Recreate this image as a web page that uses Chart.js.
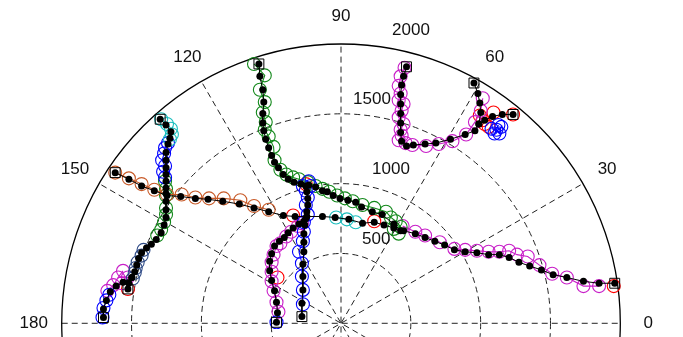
<!DOCTYPE html>
<html>
<head>
<meta charset="utf-8">
<script src="https://cdn.jsdelivr.net/npm/chart.js@4.4.1/dist/chart.umd.min.js"></script>
<style>
  html, body { margin: 0; padding: 0; background: #fff; }
  #wrap { width: 683px; height: 337px; }
</style>
</head>
<body>
<div id="wrap"><canvas id="polarChart"></canvas></div>
<script>
// positions in range units, x = r*cos(theta), y = r*sin(theta)
const ringValues = [500, 1000, 1500, 2000];
const angleTicks = [0, 30, 60, 90, 120, 150, 180];

// black tracks (dots + line)
const truthEast = [[-1617,1106],[-1519,1057],[-1428,1008],[-1337,973],[-1246,938],[-1148,931],[-1043,917],[-952,910],[-847,896],[-728,875],[-623,847],[-518,819],[-413,791],[-329,784],[-245,784],[-133,784],[-42,777],[56,763],[154,735],[238,742],[308,721],[378,700],[448,679],[532,658],[602,630],[672,602],[742,574],[812,539],[889,525],[973,518],[1057,504],[1134,504],[1204,483],[1274,448],[1351,420],[1435,392],[1519,357],[1617,336],[1736,308],[1848,294],[1960,294]];
const truthNorth = [[-588,1904],[-581,1813],[-560,1715],[-553,1624],[-560,1540],[-560,1470],[-553,1414],[-539,1351],[-518,1288],[-497,1232],[-476,1183],[-448,1141],[-413,1092],[-378,1057],[-336,1036],[-287,1022],[-231,1015],[-182,1001],[-133,973],[-98,966],[-56,938],[-7,917],[49,903],[105,889],[147,854],[224,819],[294,798],[378,728],[427,679]];
const truthWest = [[-1295,1498],[-1253,1456],[-1218,1407],[-1225,1358],[-1239,1316],[-1253,1253],[-1253,1197],[-1253,1141],[-1253,1092],[-1253,1043],[-1253,994],[-1253,952],[-1253,896],[-1253,833],[-1253,777],[-1267,721],[-1288,665],[-1323,616],[-1358,581],[-1393,553],[-1428,518],[-1449,476],[-1463,427],[-1477,378],[-1498,336],[-1561,301],[-1610,273],[-1652,231],[-1680,168],[-1701,105],[-1701,42]];
const truthShort = [[-1498,336],[-1519,294],[-1526,252]];
const truthSouthA = [[-266,749],[-301,728],[-343,700],[-378,665],[-406,630],[-441,602],[-476,567],[-497,511],[-511,455],[-511,385],[-497,315],[-476,238],[-462,154],[-455,77],[-462,7]];
const truthSouthB = [[-252,1008],[-245,966],[-238,917],[-238,868],[-245,819],[-252,770],[-259,721],[-266,658],[-266,595],[-266,525],[-273,434],[-273,343],[-273,245],[-280,147],[-280,49]];
const truthNE = [[469,1883],[448,1813],[434,1750],[427,1680],[427,1610],[427,1540],[427,1470],[427,1400],[434,1337],[469,1302],[518,1309],[602,1316],[679,1323],[784,1351],[889,1386],[959,1414],[987,1463],[1001,1547],[994,1617],[980,1687],[952,1764]];
const truthNE2 = [[987,1463],[1029,1491],[1085,1519],[1155,1533],[1232,1533]];
const trackEnds = [[-588,1904],[-1295,1498],[-1617,1106],[-1701,42],[-1526,252],[-462,7],[-280,49],[469,1883],[952,1764],[1232,1533],[1960,294]];

// estimated tracks (open circles), one array per colour group
const orangeTrack = [[-1617,1106],[-1519,1064],[-1428,1022],[-1337,980],[-1246,945],[-1141,945],[-1043,924],[-945,917],[-840,917],[-721,903],[-623,861],[-518,833]];
const cyanTrackA = [[-1288,1498],[-1246,1463],[-1218,1428],[-1211,1386],[-1225,1351]];
const cyanTrackB = [[-35,777],[42,763],[105,742]];
const blueTrackA = [[-1239,1323],[-1260,1288],[-1267,1246],[-1281,1197],[-1260,1155],[-1274,1113],[-1260,1071]];
const blueTrackB = [[-1708,42],[-1701,112],[-1680,168],[-1659,210]];
const blueTrackC = [[-273,140],[-273,245],[-280,343],[-280,441],[-301,525],[-273,602],[-266,672],[-266,742],[-238,798],[-252,868],[-238,924],[-252,973],[-273,1008],[-217,1008],[-231,1043]];
const blueTrackD = [[1078,1428],[1113,1421],[1134,1393],[1148,1442],[1099,1393],[1127,1456]];
const blueLone = [[-462,7]];
const navyTrack = [[-1414,539],[-1428,497],[-1456,448],[-1470,406],[-1477,371],[-1491,329]];
const greenTrackA = [[-1260,1043],[-1253,987],[-1253,938],[-1253,847],[-1253,798],[-1267,742],[-1288,686],[-1316,644]];
const greenTrackB = [[-623,1904],[-546,1820],[-581,1715],[-546,1624],[-560,1547],[-539,1477],[-546,1421],[-518,1372],[-483,1295],[-476,1197],[-434,1127],[-392,1092],[-343,1071],[-301,1057],[-238,1036],[-182,1008],[-133,987],[-84,966],[-28,938],[28,917],[84,896],[154,868],[238,847],[322,819],[357,777],[392,749],[427,707],[413,658],[378,693]];
const magentaTrackA = [[-1561,385],[-1596,336],[-1526,336],[-1568,294],[-1631,280],[-1673,238]];
const magentaTrackB = [[-448,84],[-462,154],[-483,238],[-497,308],[-497,378],[-497,448],[-483,504],[-462,567],[-434,588],[-392,637],[-357,672],[-308,714],[-280,735]];
const magentaTrackC = [[441,714],[532,672],[602,644],[707,595],[812,546],[889,539],[973,532],[1057,525],[1134,525],[1204,532],[1260,504],[1337,490],[1421,427],[1512,364],[1617,336],[1736,273],[1848,273]];
const magentaTrackD = [[455,1876],[427,1813],[413,1743],[427,1687],[413,1638],[448,1610],[434,1561],[413,1512],[448,1463],[427,1421],[434,1379],[413,1344],[462,1323],[511,1309],[609,1302],[700,1316],[798,1337],[896,1386],[959,1477],[1001,1561],[1015,1652]];
const redPoints = [[-343,791],[238,749],[-252,1022],[-455,336],[-1526,252],[1953,273],[1232,1533],[1092,1547],[994,1526],[1015,1491],[1029,1463],[1057,1442]];

const pts = a => a.map(([x, y]) => ({ x, y }));

const truthSet = data => ({
  data: pts(data), showLine: true, borderColor: '#000', borderWidth: 1,
  pointRadius: 3.5, pointBackgroundColor: '#000', pointBorderWidth: 0, order: 1
});
const trackSet = (data, color, line = true) => ({
  data: pts(data), showLine: line, borderColor: color, borderWidth: 1.1,
  pointRadius: 6.5, pointBackgroundColor: 'rgba(0,0,0,0)', pointBorderColor: color,
  pointBorderWidth: 1.1, order: 2
});

const ORANGE = '#C85A28', GREEN = '#12881A', CYAN = '#1ABEBE', BLUE = '#0000FF',
      NAVY = '#2E4A86', MAGENTA = '#C81EC8', RED = '#FF0000';

const S = 0.143; // px per range unit
const CX = 341, CY = 331;

const polarGrid = {
  id: 'polarGrid',
  beforeDatasetsDraw(chart) {
    const { ctx, scales: { x, y } } = chart;
    const cx = x.getPixelForValue(0), cy = y.getPixelForValue(0);
    const k = (x.getPixelForValue(1000) - cx) / 1000;
    const rMax = ringValues[ringValues.length - 1];
    ctx.save();
    ctx.lineWidth = 1;
    ctx.strokeStyle = '#222';
    // spokes
    ctx.setLineDash([6, 4]);
    for (const a of [0, 30, 60, 90, 120, 150]) {
      const t = a * Math.PI / 180;
      ctx.beginPath();
      ctx.moveTo(cx - rMax * k * Math.cos(t), cy + rMax * k * Math.sin(t));
      ctx.lineTo(cx + rMax * k * Math.cos(t), cy - rMax * k * Math.sin(t));
      ctx.stroke();
    }
    // inner rings
    for (const r of ringValues.slice(0, -1)) {
      ctx.beginPath();
      ctx.arc(cx, cy, r * k, 0, Math.PI * 2);
      ctx.stroke();
    }
    // outer ring
    ctx.setLineDash([]);
    ctx.strokeStyle = '#000';
    ctx.lineWidth = 1.3;
    ctx.beginPath();
    ctx.arc(cx, cy, rMax * k, 0, Math.PI * 2);
    ctx.stroke();
    // labels
    ctx.fillStyle = '#111';
    ctx.font = '17px "Liberation Sans", Arial, sans-serif';
    ctx.textAlign = 'center';
    ctx.textBaseline = 'middle';
    for (const a of angleTicks) {
      const t = a * Math.PI / 180;
      ctx.fillText(String(a), cx + 1.1 * rMax * k * Math.cos(t), cy - 1.1 * rMax * k * Math.sin(t));
    }
    const xOff = [21, 31, 12, 51];
    ctx.textAlign = 'left';
    ringValues.forEach((r, i) => {
      ctx.fillText(String(r), cx + xOff[i], cy - r * k - 14);
    });
    ctx.restore();
  }
};

new Chart(document.getElementById('polarChart'), {
  type: 'scatter',
  data: {
    datasets: [
      truthSet(truthEast),
      truthSet(truthNorth),
      truthSet(truthWest),
      truthSet(truthShort),
      truthSet(truthSouthA),
      truthSet(truthSouthB),
      truthSet(truthNE),
      truthSet(truthNE2),
      {
        data: pts(trackEnds), showLine: false, pointStyle: 'rect', pointRadius: 7,
        pointBackgroundColor: 'rgba(0,0,0,0)', pointBorderColor: '#000', pointBorderWidth: 1, order: 0
      },
      trackSet(orangeTrack, ORANGE),
      trackSet(cyanTrackA, CYAN),
      trackSet(cyanTrackB, CYAN),
      trackSet(blueTrackA, BLUE),
      trackSet(blueTrackB, BLUE),
      trackSet(blueTrackC, BLUE),
      trackSet(blueTrackD, BLUE),
      trackSet(blueLone, BLUE, false),
      trackSet(navyTrack, NAVY),
      trackSet(greenTrackA, GREEN),
      trackSet(greenTrackB, GREEN),
      trackSet(magentaTrackA, MAGENTA),
      trackSet(magentaTrackB, MAGENTA),
      trackSet(magentaTrackC, MAGENTA),
      trackSet(magentaTrackD, MAGENTA),
      trackSet(redPoints, RED, false)
    ]
  },
  options: {
    responsive: true,
    maintainAspectRatio: false,
    animation: false,
    events: [],
    layout: { padding: 0 },
    plugins: { legend: { display: false }, tooltip: { enabled: false } },
    scales: {
      x: { type: 'linear', display: false, min: -CX / S, max: (683 - CX) / S },
      y: { type: 'linear', display: false, min: -(337 - CY) / S, max: CY / S }
    }
  },
  plugins: [polarGrid]
});
</script>
</body>
</html>
